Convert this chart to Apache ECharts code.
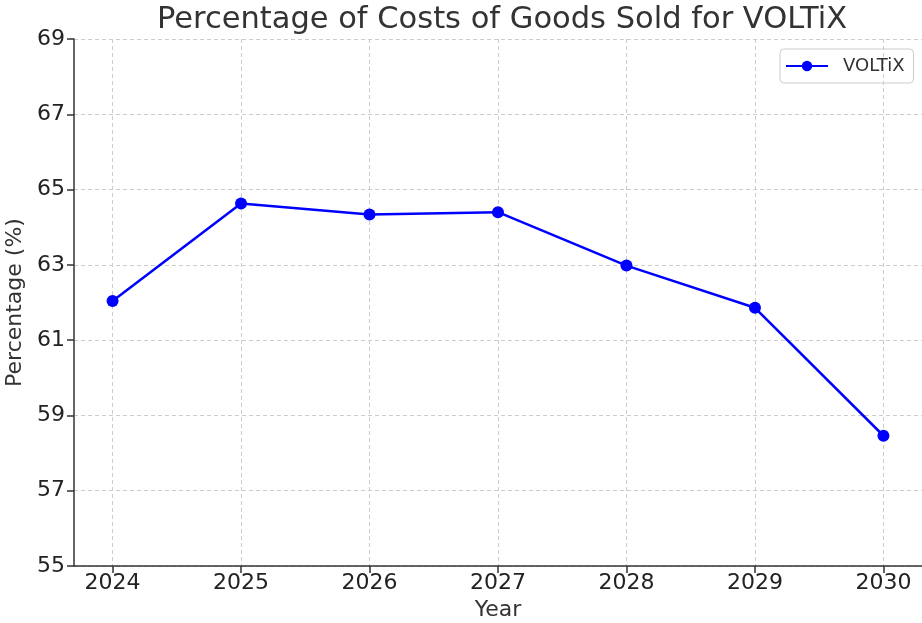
<!DOCTYPE html>
<html>
<head>
<meta charset="utf-8">
<script src="https://cdn.jsdelivr.net/npm/echarts@6/dist/echarts.min.js"></script>
<style>
    html, body { margin: 0; padding: 0; background: #fff; }
    #chart { width: 922px; height: 623px; }
</style>
</head>
<body>
<div id="chart"></div>
<script>
const years = [2024, 2025, 2026, 2027, 2028, 2029, 2030];
const voltixValues = [62.04, 64.63, 64.34, 64.40, 62.98, 61.86, 58.46];
const yTicks = [55, 57, 59, 61, 63, 65, 67, 69];

const chart = echarts.init(document.getElementById("chart"));
const font = "DejaVu Sans";

let seriesData = years.map((y, i) => [y, voltixValues[i]]);

let options = {
    animation: false,
    title: {
        text: "Percentage of Costs of Goods Sold for VOLTiX",
        left: 497,
        textAlign: "center",
        top: 0,
        textStyle: {
            fontFamily: font,
            fontSize: 30.5,
            fontWeight: "normal",
            color: "#333333"
        }
    },
    legend: {
        left: 780,
        top: 49,
        orient: "vertical",
        padding: [8, 9, 8, 5],
        borderColor: "#cccccc",
        borderWidth: 1,
        borderRadius: 4,
        itemWidth: 42,
        itemHeight: 13,
        itemGap: 8,
        textStyle: {
            fontFamily: font,
            fontSize: 18,
            color: "#333333",
            padding: [0, 0, 0, 10]
        },
        data: ["VOLTiX"]
    },
    grid: {
        left: 74,
        right: 0,
        top: 39,
        bottom: 57,
        containLabel: false,
        outerBoundsMode: "none"
    },
    xAxis: {
        type: "value",
        name: "Year",
        nameLocation: "middle",
        nameGap: 32,
        nameTextStyle: {
            fontFamily: font,
            fontSize: 22,
            color: "#333333"
        },
        min: 2023.7,
        max: 2030.3,
        axisLine: {
            onZero: false,
            lineStyle: { color: "#333333", width: 1.5 }
        },
        axisTick: {
            customValues: years,
            length: 7,
            lineStyle: { color: "#333333", width: 1.5 }
        },
        axisLabel: {
            customValues: years,
            margin: 6,
            fontFamily: font,
            fontSize: 22,
            color: "#222222",
            formatter: v => String(v)
        },
        splitLine: {
            show: true,
            lineStyle: { color: "#cccccc", type: [4, 3], width: 1 }
        }
    },
    yAxis: {
        type: "value",
        name: "Percentage (%)",
        nameLocation: "middle",
        nameGap: 41,
        nameTextStyle: {
            fontFamily: font,
            fontSize: 22,
            color: "#333333"
        },
        min: 55,
        max: 69,
        interval: 2,
        axisLine: {
            show: true,
            lineStyle: { color: "#333333", width: 1.5 }
        },
        axisTick: {
            show: true,
            length: 7,
            lineStyle: { color: "#333333", width: 1.5 }
        },
        axisLabel: {
            margin: 9,
            fontFamily: font,
            fontSize: 22,
            color: "#222222",
            formatter: v => (yTicks.includes(v) ? String(v) : "")
        },
        splitLine: {
            show: true,
            lineStyle: { color: "#cccccc", type: [4, 3], width: 1 }
        }
    },
    series: [
        {
            name: "VOLTiX",
            type: "line",
            symbol: "circle",
            symbolSize: 12,
            data: seriesData,
            itemStyle: { color: "#0000ff" },
            lineStyle: { color: "#0000ff", width: 2.5 }
        }
    ]
};
chart.setOption(options);
</script>
</body>
</html>
